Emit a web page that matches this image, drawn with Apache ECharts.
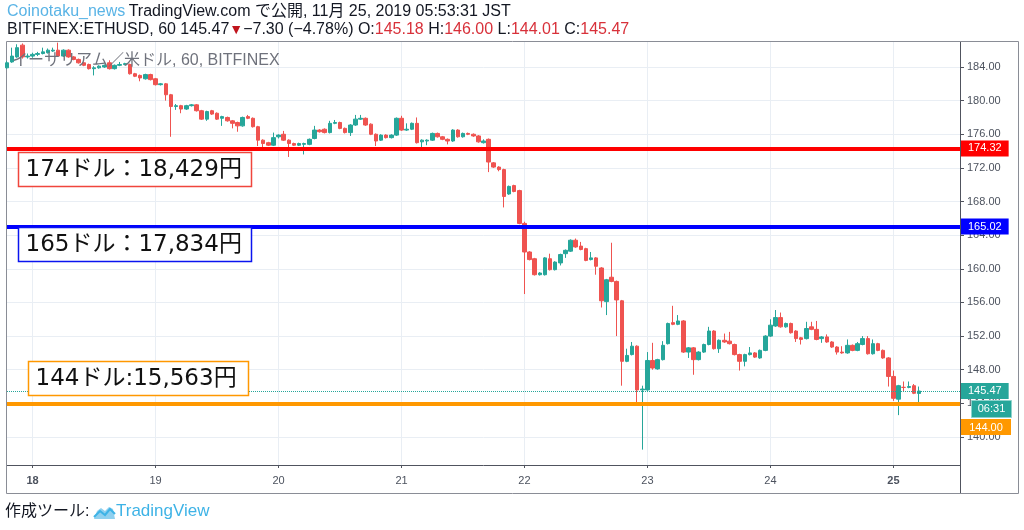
<!DOCTYPE html>
<html><head><meta charset="utf-8">
<script src="https://cdn.jsdelivr.net/npm/echarts@6/dist/echarts.min.js"></script>
<style>html,body{margin:0;padding:0;background:#fff}#c{width:1024px;height:530px}</style>
</head><body><div id="c"></div>
<script>
// ---- data (hourly ETHUSD candles, Bitfinex, from Nov 17 19:00) ----
const opens = [183.9,184.6,185.2,186.6,185.2,185.3,185.5,185.6,185.7,185.9,186.0,185.3,186.0,185.2,184.9,184.5,184.3,183.8,183.9,184.0,
184.5,183.8,184.2,184.3,184.3,183.2,183.0,182.6,183.1,182.6,181.9,182.0,180.7,179.3,179.4,179.0,179.4,179.5,178.8,177.8,
178.8,178.5,177.9,178.0,177.6,177.4,177.0,178.1,177.9,176.9,175.3,175.0,174.7,175.7,176.0,175.3,174.9,174.7,174.8,174.8,
175.5,176.5,176.6,176.2,177.3,177.4,176.7,176.2,177.1,177.8,177.9,177.2,176.0,175.3,175.9,175.6,175.9,177.9,176.5,176.6,
177.3,175.1,175.2,175.3,176.1,175.7,175.4,175.2,176.5,175.7,176.1,176.0,175.8,175.0,175.4,172.6,172.1,171.8,168.9,169.9,
169.3,165.4,162.0,161.2,159.3,159.3,161.2,159.9,160.7,161.8,162.1,163.4,162.7,162.4,161.1,161.3,160.1,156.1,159.0,158.5,
156.2,149.0,149.8,150.8,145.6,145.6,149.1,148.1,149.2,151.1,153.6,153.4,153.8,150.1,150.6,149.2,150.1,151.0,152.6,150.5,
151.5,151.4,151.0,149.8,149.0,149.8,150.0,149.4,150.3,152.0,153.2,154.2,153.1,153.5,152.6,151.8,151.7,153.1,152.8,151.7,
151.9,151.3,150.7,150.1,150.0,150.9,150.3,151.0,151.7,149.9,151.1,150.3,149.4,147.2,144.5,145.9,145.9,146.1,145.18];
const closes = [184.5,185.3,186.3,185.2,185.3,185.5,185.6,185.8,186.0,186.0,185.3,186.0,185.2,184.9,184.5,184.2,183.8,183.9,184.1,184.2,
183.8,184.2,184.3,184.4,183.2,182.9,182.7,183.1,182.5,181.9,182.0,180.7,179.3,179.4,179.0,179.4,179.5,178.8,177.8,178.7,
178.4,177.8,178.1,177.6,177.3,177.0,178.0,177.9,176.9,175.3,174.9,174.7,175.6,175.9,175.3,174.9,174.7,174.9,174.9,175.4,
176.5,176.3,176.2,177.3,177.4,176.7,176.2,177.1,177.8,177.9,177.1,176.0,175.2,175.9,175.6,175.9,177.9,176.5,176.6,177.3,
175.0,175.3,175.3,176.1,175.7,175.4,175.2,176.5,175.7,176.1,176.0,175.8,175.1,175.2,172.7,172.1,171.8,168.6,169.8,169.2,
165.4,162.0,161.1,159.3,159.5,161.3,159.9,160.8,161.7,162.2,163.4,162.6,162.3,161.0,161.3,160.3,156.2,158.7,158.5,156.3,
149.0,149.7,150.8,145.6,145.7,149.1,148.2,149.2,150.9,153.5,153.4,153.8,150.1,150.6,149.2,150.1,151.0,152.6,150.5,151.5,
151.3,151.1,149.8,149.0,149.8,150.0,149.5,150.3,152.0,153.3,154.2,153.1,153.5,152.4,151.7,151.6,152.9,152.8,151.6,151.9,
151.3,150.7,150.1,150.0,150.9,150.3,151.1,151.7,149.9,151.1,150.3,149.4,147.2,144.6,146.1,145.9,146.0,145.2,145.47];
const lows = [183.8,184.5,185.1,185.0,185.0,185.1,185.3,185.5,185.6,185.8,185.2,185.2,185.1,184.8,184.4,184.1,183.7,183.0,183.8,183.9,
183.7,183.7,184.1,184.2,183.1,182.8,182.3,182.5,182.4,181.8,181.8,180.0,175.7,178.9,178.5,178.9,179.3,178.7,177.7,177.6,
178.3,177.7,177.0,177.5,176.7,176.3,176.9,177.8,176.8,174.6,174.4,174.6,174.6,175.5,175.2,173.3,174.6,174.6,173.6,174.7,
175.4,176.2,176.1,176.1,177.2,176.6,176.1,175.8,177.0,177.7,177.0,175.9,174.6,175.2,175.5,175.5,175.8,176.4,176.4,176.5,
174.9,174.2,174.7,175.2,175.6,175.3,174.8,175.1,175.6,175.6,175.9,175.7,175.0,174.9,171.5,172.0,171.6,167.3,168.8,169.1,
165.3,157.0,161.0,159.2,159.2,159.2,159.8,159.8,160.4,161.3,162.0,162.5,162.2,160.9,161.0,159.3,155.4,154.5,158.4,152.0,
146.1,148.9,149.7,144.0,138.5,145.5,148.0,148.0,149.1,151.0,153.3,153.3,150.0,149.4,147.4,149.1,150.0,150.9,150.4,150.0,
151.2,151.0,149.7,147.9,148.4,149.7,149.4,149.3,150.2,151.9,153.1,153.0,153.0,152.3,151.3,151.0,151.6,152.7,151.5,151.2,
151.2,150.6,149.8,149.9,149.9,150.2,150.2,150.9,149.8,149.8,150.2,149.3,146.0,144.3,142.6,145.4,145.8,145.1,144.01];
const highs = [184.7,186.3,186.7,186.8,185.6,185.7,185.8,186.3,186.2,186.3,186.9,186.1,186.1,185.3,185.0,184.6,184.4,184.1,184.2,184.3,
184.8,184.3,184.6,184.5,184.4,183.3,183.1,183.2,183.2,182.7,182.1,182.1,180.8,179.6,179.5,179.5,179.6,179.6,178.9,178.8,
178.9,178.6,178.2,178.1,177.7,177.5,178.1,178.3,178.0,177.0,175.4,175.1,176.2,176.0,176.4,175.4,175.0,175.0,175.0,175.5,
177.0,176.6,176.7,177.6,177.7,177.5,176.8,177.2,178.3,178.3,178.0,177.3,176.1,176.0,176.0,176.0,178.0,178.2,177.3,177.4,
178.0,175.4,175.4,176.2,176.2,175.8,175.5,176.6,176.6,176.2,176.2,176.1,175.9,175.4,175.5,172.7,172.2,171.9,169.9,170.0,
169.4,165.6,162.1,161.3,159.6,161.4,161.8,160.9,161.8,162.3,163.5,163.6,163.2,162.5,162.0,161.4,160.2,158.8,163.1,158.6,
156.3,150.5,151.3,150.9,146.1,150.1,151.2,149.3,151.4,153.6,155.6,154.5,153.9,150.7,150.7,150.2,151.1,153.1,152.7,151.6,
152.3,152.5,151.1,149.9,149.9,150.7,150.1,150.4,152.1,154.0,155.1,154.8,153.6,153.6,152.7,151.9,153.7,153.7,153.8,152.0,
152.2,151.4,150.8,150.8,151.6,151.0,151.3,152.0,152.0,151.6,151.2,150.4,149.5,147.9,146.2,146.6,146.6,146.3,146.00];
const dayLabels = ['18','19','20','21','22','23','24','25'];
const boldDays = ['18','25'];
const yTicks = [140,144,148,152,156,160,164,168,172,176,180,184];
const levelValues = [174.32, 165.02, 144.00];
const levelColors = ['#ff0000', '#0000ff', '#ff9800'];
const lastPrice = 145.47;
const countdown = '06:31';
const noteTexts = ['174ドル：18,429円', '165ドル：17,834円', '144ドル:15,563円'];

// hourly categories starting Nov 17 19:00, with empty slots to the right
const firstHour = 19, firstDay = 17, slotCount = 187;
const categories = [];
for (let k = 0; k < slotCount; k++) {
  const t = firstHour + k;
  categories.push((firstDay + Math.floor(t / 24)) + ' ' + String(t % 24).padStart(2, '0') + ':00');
}
const candles = opens.map((o, i) => [o, closes[i], lows[i], highs[i]]);
const isDayStart = (idx, val) => val.endsWith(' 00:00') && dayLabels.includes(val.split(' ')[0]);

const UP = '#26a69a', DOWN = '#ef5350', AX = '#50535e', TXT = '#4c525e';
const FONT = '"Liberation Sans", "Noto Sans CJK JP", sans-serif';
const NOTE_FONT = '"DejaVu Sans", "Noto Sans CJK JP", sans-serif';

const chart = echarts.init(document.getElementById('c'), null, {renderer: 'canvas'});
chart.setOption({
  animation: false,
  backgroundColor: '#ffffff',
  textStyle: {fontFamily: FONT},
  grid: {left: 7, right: 64, top: 42, bottom: 65},
  xAxis: {
    type: 'category', data: categories, boundaryGap: false,
    axisLine: {show: true, lineStyle: {color: AX}},
    axisTick: {show: true, length: 3, interval: isDayStart, lineStyle: {color: AX}},
    axisLabel: {
      interval: isDayStart, color: TXT, fontSize: 11, margin: 10,
      formatter: v => { const d = v.split(' ')[0]; return boldDays.includes(d) ? '{b|' + d + '}' : d; },
      rich: {b: {fontWeight: 'bold', fontSize: 11, color: TXT}}
    },
    splitLine: {show: true, interval: isDayStart, lineStyle: {color: '#e9eef4', width: 1}}
  },
  yAxis: {
    type: 'value', position: 'right', min: 136.67, max: 186.973,
    axisLine: {show: true, lineStyle: {color: AX}},
    axisTick: {show: true, length: 4, customValues: yTicks, lineStyle: {color: AX}},
    axisLabel: {customValues: yTicks, color: TXT, fontSize: 11, margin: 7, formatter: v => Number(v).toFixed(2)},
    splitLine: {show: true, lineStyle: {color: '#e9eef4', width: 1}}
  },
  series: [{
    type: 'candlestick', data: candles, barWidth: 4,
    itemStyle: {color: UP, color0: DOWN, borderColor: UP, borderColor0: DOWN, borderWidth: 1},
    markLine: {
      symbol: ['none', 'none'], silent: true, animation: false,
      data: [
        ...levelValues.map((v, i) => ({
          yAxis: v,
          lineStyle: {color: levelColors[i], width: 4, type: 'solid'},
          label: {show: i < 2, position: 'end', distance: 1, formatter: v.toFixed(2), color: '#fff',
                  backgroundColor: levelColors[i], padding: [3, 7, 2, 7], fontSize: 11, fontFamily: FONT}
        })),
        {
          yAxis: lastPrice,
          lineStyle: {color: UP, width: 1, type: 'dotted'},
          label: {show: true, position: 'end', distance: 1, formatter: lastPrice.toFixed(2), color: '#fff',
                  backgroundColor: UP, padding: [3, 7, 2, 7], fontSize: 11, fontFamily: FONT}
        }
      ]
    }
  }]
});

const yLast = chart.convertToPixel({yAxisIndex: 0}, lastPrice);
const noteBoxes = [
  {x: 18.5, y: 152.5, w: 233, h: 34, c: '#f0463c'},
  {x: 18.5, y: 227.5, w: 233, h: 34, c: '#0a14f0'},
  {x: 28.5, y: 361.5, w: 220, h: 34, c: '#ff9800'}
];
const graphics = [
  // frame
  {type: 'rect', shape: {x: 6.5, y: 41.5, width: 1012, height: 452}, style: {fill: 'none', stroke: '#8a8d96', lineWidth: 1}, z: 1},
  {type: 'line', shape: {x1: 960.5, y1: 465, x2: 960.5, y2: 493}, style: {stroke: AX, lineWidth: 1}, z: 1},
  // header
  {type: 'text', x: 7, y: 4, z: 10, style: {
    text: '{a|Coinotaku_news} {b|TradingView.com で公開, 11月 25, 2019 05:53:31 JST}',
    rich: {a: {fill: '#5ab4e6', fontSize: 16, fontFamily: FONT}, b: {fill: '#131722', fontSize: 16, fontFamily: FONT}}}},
  {type: 'text', x: 7, y: 22, z: 10, style: {
    text: '{b|BITFINEX:ETHUSD, 60 145.47}{t|▼}{b|−7.30 (−4.78%) O:}{r|145.18}{b| H:}{r|146.00}{b| L:}{r|144.01}{b| C:}{r|145.47}',
    rich: {b: {fill: '#131722', fontSize: 16, fontFamily: FONT}, r: {fill: '#d8313a', fontSize: 16, fontFamily: FONT},
           t: {fill: '#c0141c', fontSize: 14, fontFamily: FONT}}}},
  // legend in pane
  {type: 'text', x: 12, y: 53, z: 10, style: {text: 'イーサリアム／米ドル, 60, BITFINEX', fill: '#6f727c', fontSize: 16, fontFamily: FONT}},
  // footer
  {type: 'text', x: 5, y: 504, z: 10, style: {text: '作成ツール: ', fill: '#131722', fontSize: 16, fontFamily: FONT}},
  {type: 'polygon', z: 10, shape: {points: [[94, 519], [97, 511], [101, 508], [105, 511], [109, 507], [113, 509], [115, 519]]}, style: {fill: '#8fd0ef'}},
  {type: 'polyline', z: 11, shape: {points: [[94, 517], [100, 511], [105, 515], [110, 509], [115, 514]]}, style: {fill: 'none', stroke: '#3eb3e6', lineWidth: 2}},
  {type: 'text', x: 116, y: 503, z: 10, style: {text: 'TradingView', fill: '#3eb3e6', fontSize: 17, fontFamily: FONT}},
  // countdown & 144 tag on price scale
  {type: 'rect', z: 20, shape: {x: 971.5, y: yLast + 9.5, width: 40, height: 17}, style: {fill: UP, stroke: '#8fd3cc', lineWidth: 1}},
  {type: 'text', z: 21, x: 991.5, y: yLast + 18, style: {text: countdown, fill: '#fff', fontSize: 11, fontFamily: FONT, align: 'center', verticalAlign: 'middle'}},
  {type: 'rect', z: 20, shape: {x: 961, y: yLast + 28, width: 50, height: 16}, style: {fill: levelColors[2]}},
  {type: 'text', z: 21, x: 986, y: yLast + 36.5, style: {text: levelValues[2].toFixed(2), fill: '#fff', fontSize: 11, fontFamily: FONT, align: 'center', verticalAlign: 'middle'}}
];
noteBoxes.forEach((b, i) => {
  graphics.push({type: 'rect', z: 15, shape: {x: b.x, y: b.y, width: b.w, height: b.h}, style: {fill: '#fff', stroke: b.c, lineWidth: 1.5}});
  graphics.push({type: 'text', z: 16, x: b.x + 7, y: b.y + b.h / 2 + 1, style: {text: noteTexts[i], fill: '#111', fontSize: 23,
    fontFamily: NOTE_FONT, verticalAlign: 'middle'}});
});
chart.setOption({graphic: graphics});
</script></body></html>
